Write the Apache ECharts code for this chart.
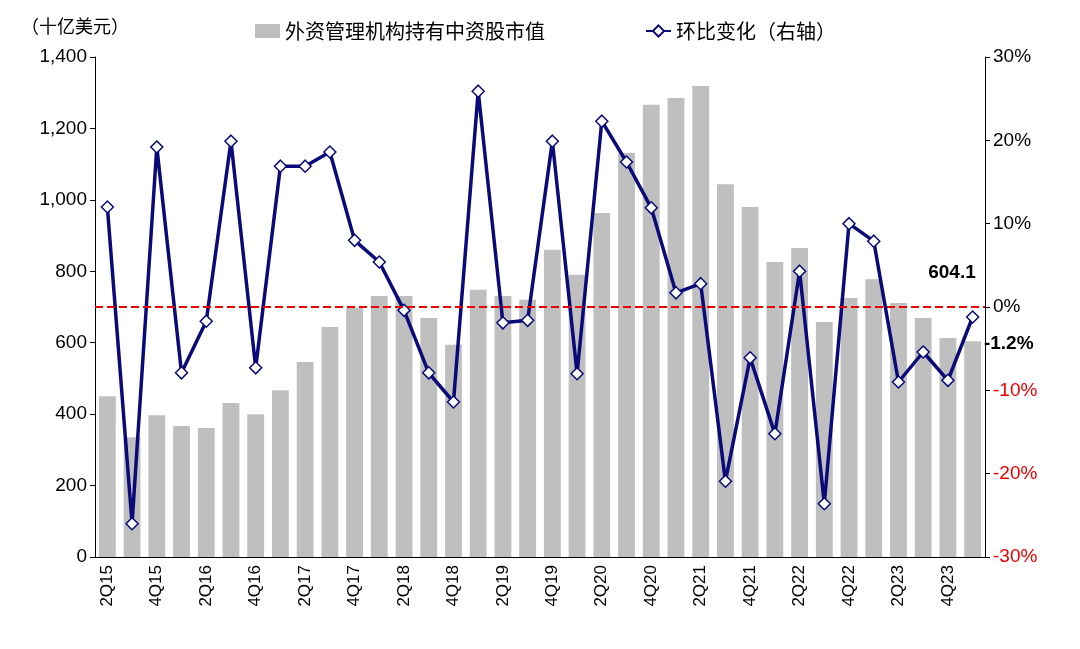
<!DOCTYPE html><html><head><meta charset="utf-8"><script src="https://cdn.jsdelivr.net/npm/echarts@6/dist/echarts.min.js"></script></head><body style="margin:0"><div id="c" style="width:1080px;height:649px"></div><script>
const categories=['2Q15','3Q15','4Q15','1Q16','2Q16','3Q16','4Q16','1Q17','2Q17','3Q17','4Q17','1Q18','2Q18','3Q18','4Q18','1Q19','2Q19','3Q19','4Q19','1Q20','2Q20','3Q20','4Q20','1Q21','2Q21','3Q21','4Q21','1Q22','2Q22','3Q22','4Q22','1Q23','2Q23','3Q23','4Q23','1Q24'];
const holdings=[450,335,397,367,361,431,400,467,546,644,697,731,731,669,594,748,731,720,860,790,963,1131,1266,1285,1319,1044,980,826,865,658,725,778,711,669,613,604.1];
const qoq=[12,-26,19.2,-7.9,-1.7,19.9,-7.3,16.9,16.9,18.6,8.0,5.4,-0.4,-7.9,-11.4,25.9,-1.9,-1.6,19.9,-8.0,22.3,17.4,11.9,1.7,2.8,-20.9,-6.1,-15.2,4.3,-23.6,10.0,7.9,-9.0,-5.4,-8.8,-1.2];
const f='"Noto Sans CJK SC","Liberation Sans",sans-serif';
const ch=echarts.init(document.getElementById('c'));
const n=holdings.length-1;
ch.setOption({animation:false,
grid:{left:95,right:95,top:57,bottom:92},
legend:{top:16,left:250,itemGap:100,textStyle:{fontFamily:f,fontSize:20,color:'#000'},
 data:[{name:'外资管理机构持有中资股市值',icon:'rect',itemWidth:24,itemHeight:16},{name:'环比变化（右轴）',itemWidth:30}]},
xAxis:{type:'category',data:categories,axisTick:{show:false},axisLine:{lineStyle:{color:'#000'}},
 axisLabel:{rotate:90,interval:1,fontSize:17,color:'#000',fontFamily:'Liberation Sans'}},
yAxis:[{type:'value',min:0,max:1400,interval:200,name:'（十亿美元）',nameGap:22,nameTextStyle:{fontFamily:f,fontSize:18,color:'#000',padding:[0,0,0,-40]},
 splitLine:{show:false},axisLine:{show:true,lineStyle:{color:'#000'}},axisTick:{show:true},
 axisLabel:{fontSize:19,color:'#000',fontFamily:'Liberation Sans',formatter:v=>v.toLocaleString('en-US')}},
 {type:'value',min:-30,max:30,interval:10,splitLine:{show:false},axisLine:{show:true,lineStyle:{color:'#000'}},axisTick:{show:true},
 axisLabel:{fontSize:19,fontFamily:'Liberation Sans',formatter:v=>v+'%',color:v=>v<0?'#e00':'#000'}}],
series:[{name:'外资管理机构持有中资股市值',type:'bar',data:holdings.map((v,i)=>i===n?{value:v,label:{show:true,position:[-36,-78],formatter:'604.1',fontWeight:'bold',fontSize:19,color:'#000',fontFamily:'Liberation Sans'}}:v),
 barWidth:'68%',itemStyle:{color:'#bfbfbf'}},
 {name:'环比变化（右轴）',type:'line',yAxisIndex:1,data:qoq.map((v,i)=>i===n?{value:v,label:{show:true,position:[18,24],formatter:'-1.2%',fontWeight:'bold',fontSize:19,color:'#000',fontFamily:'Liberation Sans'}}:v),
 symbol:'diamond',symbolSize:12,lineStyle:{color:'#0a0a78',width:3.5},itemStyle:{color:'#fff',borderColor:'#0a0a78',borderWidth:1.5},
 markLine:{silent:true,symbol:'none',label:{show:false},lineStyle:{color:'#e00',type:'dashed',width:2},data:[{yAxis:0}]}}]});
</script></body></html>
